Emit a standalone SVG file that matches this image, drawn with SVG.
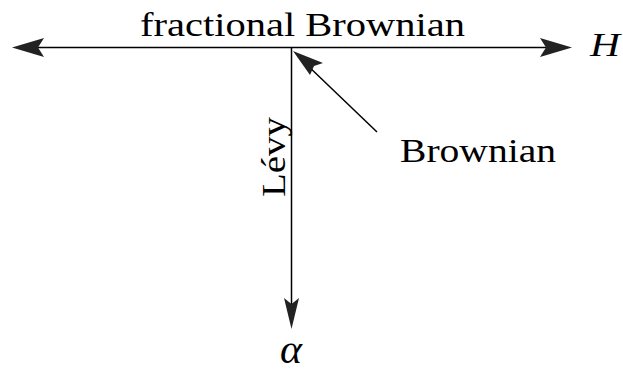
<svg xmlns="http://www.w3.org/2000/svg" width="623" height="376" viewBox="0 0 623 376">
<style>
.t{font-family:"Liberation Serif","DejaVu Serif",serif;font-size:34px;fill:#000}
.i{font-style:italic}
.l{stroke:#000;stroke-width:1.5;fill:none}
.h{fill:#222}
</style>
<rect width="623" height="376" fill="#fff"/>
<g id="connectors">
<line class="l" x1="30" y1="47.5" x2="555" y2="47.5"/>
<path class="h" d="M12,47.5 L44,38 L38,47.5 L44,57 Z"/>
<path class="h" d="M572,47.5 L540,38 L546,47.5 L540,57 Z"/>
<line class="l" x1="291.5" y1="47.5" x2="291.5" y2="310"/>
<path class="h" d="M291.5,329 L284,298 L291.5,304 L299,298 Z"/>
<line class="l" x1="377" y1="132" x2="305" y2="63"/>
<path class="h" d="M293,51 L323,63 L314,66 L310,75 Z"/>
</g>
<g id="fractional-brownian"><text class="t" x="140" y="36" textLength="325" lengthAdjust="spacingAndGlyphs">fractional Brownian</text></g>
<g id="H"><text class="t i" x="590" y="56" textLength="30" lengthAdjust="spacingAndGlyphs">H</text></g>
<g id="brownian"><text class="t" x="400" y="162" textLength="156" lengthAdjust="spacingAndGlyphs">Brownian</text></g>
<g id="levy"><text class="t" transform="translate(285,197) rotate(-90)" textLength="80" lengthAdjust="spacingAndGlyphs">Lévy</text></g>
<g id="alpha"><text class="t i" style="font-size:40px" x="280" y="363" textLength="22" lengthAdjust="spacingAndGlyphs">α</text></g>
</svg>
